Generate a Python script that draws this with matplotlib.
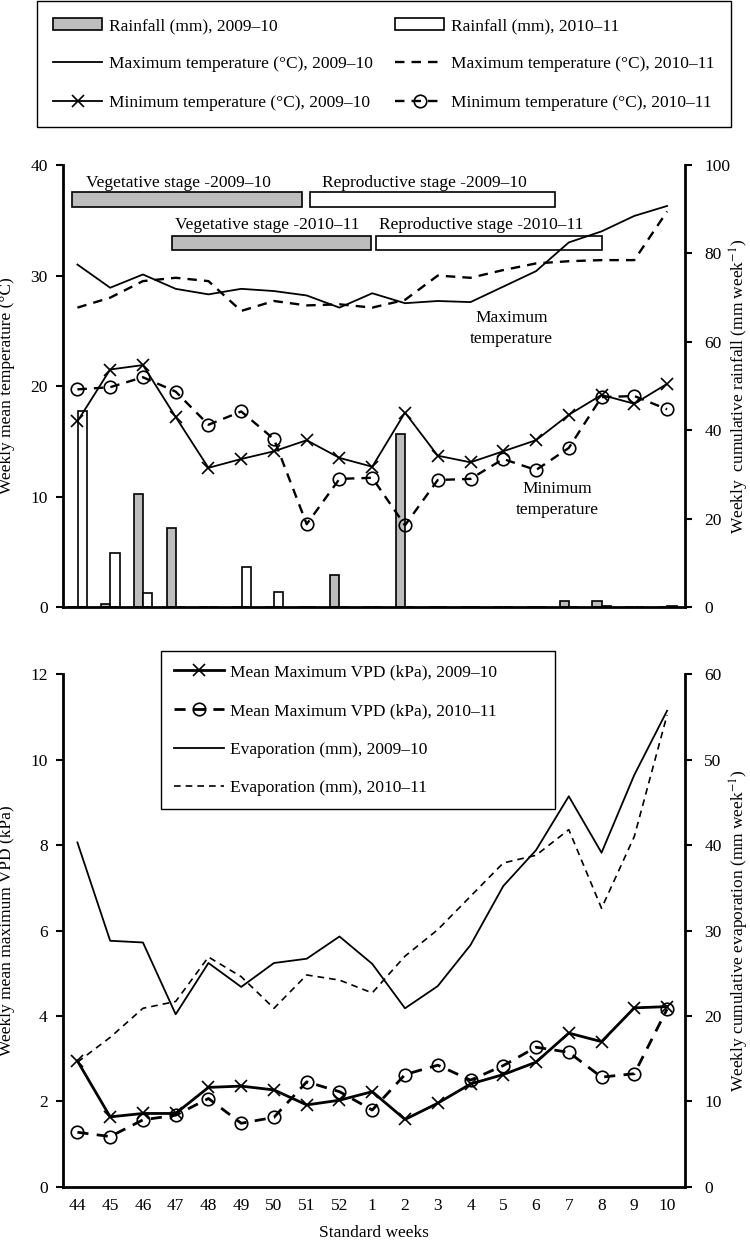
import matplotlib.pyplot as plt
import numpy as np

plt.rcParams['font.family'] = ['Liberation Serif', 'DejaVu Serif']
plt.rcParams['mathtext.fontset'] = 'stix'
plt.rcParams['font.size'] = 12.5

# standard weeks, Nov 2009/10 -> Mar 2010/11
weeks = ['44', '45', '46', '47', '48', '49', '50', '51', '52',
         '1', '2', '3', '4', '5', '6', '7', '8', '9', '10']

# rainfall (mm week-1)
rain_0910 = [0, 0.6, 25.5, 18.0, 0, 0, 0, 0, 7.3, 0, 39.2, 0, 0, 0, 0, 1.4, 1.4, 0, 0]
rain_1011 = [44.4, 12.2, 3.2, 0, 0, 9.0, 3.5, 0, 0, 0, 0, 0, 0, 0, 0, 0, 0.3, 0, 0.2]

# weekly mean temperatures (deg C)
tmax_0910 = [31.0, 28.9, 30.1, 28.8, 28.3, 28.8, 28.6, 28.2, 27.1, 28.4,
             27.5, 27.7, 27.6, 29.0, 30.4, 33.0, 34.0, 35.4, 36.3]
tmax_1011 = [27.1, 28.0, 29.5, 29.8, 29.5, 26.8, 27.7, 27.3, 27.4, 27.1,
             27.8, 30.0, 29.8, 30.5, 31.1, 31.3, 31.4, 31.4, 35.8]
tmin_0910 = [16.8, 21.5, 21.9, 17.2, 12.6, 13.4, 14.1, 15.1, 13.5, 12.7,
             17.6, 13.7, 13.1, 14.1, 15.1, 17.4, 19.2, 18.4, 20.2]
tmin_1011 = [19.7, 19.9, 20.8, 19.5, 16.5, 17.7, 15.2, 7.5, 11.6, 11.7,
             7.4, 11.5, 11.6, 13.4, 12.4, 14.4, 19.0, 19.1, 17.9]

# crop stages (in week index units)
stage_labels = ['Vegetative stage -2009\u201310', 'Reproductive stage -2009\u201310',
                'Vegetative stage -2010\u201311', 'Reproductive stage -2010\u201311']
stage_start = [-0.17, 7.09, 2.88, 9.11]
stage_end = [6.86, 14.59, 8.95, 16.01]

# mean maximum VPD (kPa)
vpd_0910 = [2.95, 1.64, 1.72, 1.72, 2.33, 2.36, 2.27, 1.92, 2.03, 2.23,
            1.58, 1.96, 2.41, 2.63, 2.92, 3.60, 3.40, 4.19, 4.22]
vpd_1011 = [1.28, 1.18, 1.57, 1.68, 2.07, 1.49, 1.63, 2.46, 2.23, 1.80,
            2.63, 2.85, 2.50, 2.84, 3.27, 3.15, 2.57, 2.65, 4.16]

# evaporation (mm week-1)
evap_0910 = [40.3, 28.8, 28.6, 20.2, 26.2, 23.4, 26.2, 26.7, 29.3, 26.1,
             20.9, 23.5, 28.3, 35.2, 39.4, 45.7, 39.1, 48.2, 55.7]
evap_1011 = [14.6, 17.5, 20.9, 21.7, 26.9, 24.6, 20.9, 24.8, 24.2, 22.7,
             27.0, 30.1, 34.0, 37.9, 38.8, 41.8, 32.6, 41.0, 55.2]

x = np.arange(len(weeks))
gray = '#bdbdbd'

fig = plt.figure(figsize=(7.5, 12.45), dpi=100)


def style_pair(ax, axr):
    ax.spines['top'].set_visible(False)
    ax.spines['right'].set_visible(False)
    for s in ['top', 'left', 'bottom']:
        axr.spines[s].set_visible(False)
    for s in ['left', 'bottom']:
        ax.spines[s].set_linewidth(2)
    axr.spines['right'].set_linewidth(2)
    ax.tick_params(axis='y', direction='out', length=5, width=1.5, pad=6)
    axr.tick_params(axis='y', direction='out', length=5, width=1.5, pad=9)
    ax.tick_params(axis='x', length=0)
    ax.set_xlim(-0.44, 18.54)


def right_label(axr, text):
    axr.set_ylabel(text)
    axr.yaxis.label.set_verticalalignment('center')
    axr.yaxis.label.set_horizontalalignment('center')
    axr.yaxis.set_label_coords(1.088, 0.5)


# ---------------- top panel: temperature + rainfall ----------------
ax1 = fig.add_axes([0.084, 0.5124, 0.829, 0.355])
ax1r = ax1.twinx()
ax1.set_zorder(ax1r.get_zorder() + 1)
ax1.patch.set_visible(False)
style_pair(ax1, ax1r)

b1 = ax1r.bar(x - 0.14, rain_0910, width=0.28, color=gray, edgecolor='black', linewidth=1.2)
b2 = ax1r.bar(x + 0.15, rain_1011, width=0.28, color='white', edgecolor='black', linewidth=1.2)
ax1r.set_ylim(0, 100)
ax1r.set_yticks([0, 20, 40, 60, 80, 100])
right_label(ax1r, 'Weekly  cumulative rainfall (mm week$^{-1}$)')

l1, = ax1.plot(x, tmax_0910, color='black', lw=1.3)
l2, = ax1.plot(x, tmax_1011, color='black', lw=1.7, ls=(0, (4, 3)))
l3, = ax1.plot(x, tmin_0910, color='black', lw=1.3, marker='x', ms=9, mew=1.2)
l4, = ax1.plot(x, tmin_1011, color='black', lw=1.7, ls=(0, (4, 3)), marker='o', ms=9,
               mfc='none', mew=1.2)
ax1.set_ylim(0, 40)
ax1.set_yticks([0, 10, 20, 30, 40])
ax1.set_xticks(x)
ax1.tick_params(axis='x', labelbottom=False)
ax1.set_ylabel('Weekly mean temperature (\u00b0C)')
ax1.yaxis.set_label_coords(-0.077, 0.5)

# stage bars
stage_y = [36.85, 36.85, 32.95, 32.95]
stage_col = [gray, 'white', gray, 'white']
text_x = [3.09, 10.58, 5.8, 12.32]
text_y = [38.4, 38.4, 34.6, 34.6]
for i in range(4):
    ax1.barh(stage_y[i], stage_end[i] - stage_start[i], left=stage_start[i], height=1.35,
             color=stage_col[i], edgecolor='black', linewidth=1.2)
    ax1.text(text_x[i], text_y[i], stage_labels[i], ha='center', va='center')

ax1.text(13.26, 25.2, 'Maximum\ntemperature', ha='center', va='center', linespacing=1.4)
ax1.text(14.64, 9.7, 'Minimum\ntemperature', ha='center', va='center', linespacing=1.4)

leg1 = fig.legend([b1, l1, l3, b2, l2, l4],
                  ['Rainfall (mm), 2009\u201310', 'Maximum temperature (\u00b0C), 2009\u201310',
                   'Minimum temperature (\u00b0C), 2009\u201310', 'Rainfall (mm), 2010\u201311',
                   'Maximum temperature (\u00b0C), 2010\u201311', 'Minimum temperature (\u00b0C), 2010\u201311'],
                  ncol=2, loc='upper center', bbox_to_anchor=(0.512, 0.999),
                  fancybox=False, edgecolor='black', framealpha=1,
                  handlelength=2.8, handletextpad=0.4, columnspacing=1.3,
                  labelspacing=1.28, borderpad=0.95, borderaxespad=0)
leg1.get_frame().set_linewidth(1.0)

# ---------------- bottom panel: VPD + evaporation ----------------
ax2 = fig.add_axes([0.084, 0.0466, 0.829, 0.412])
ax2r = ax2.twinx()
ax2.set_zorder(ax2r.get_zorder() + 1)
ax2.patch.set_visible(False)
style_pair(ax2, ax2r)

e1, = ax2r.plot(x, evap_0910, color='black', lw=1.3)
e2, = ax2r.plot(x, evap_1011, color='black', lw=1.2, ls=(0, (4, 3)))
ax2r.set_ylim(0, 60)
ax2r.set_yticks([0, 10, 20, 30, 40, 50, 60])
right_label(ax2r, 'Weekly cumulative evaporation (mm week$^{-1}$)')

v1, = ax2.plot(x, vpd_0910, color='black', lw=2.0, marker='x', ms=9, mew=1.2)
v2, = ax2.plot(x, vpd_1011, color='black', lw=2.0, ls=(0, (4, 3)), marker='o', ms=9,
               mfc='none', mew=1.2)
ax2.set_ylim(0, 12)
ax2.set_yticks([0, 2, 4, 6, 8, 10, 12])
ax2.set_xticks(x)
ax2.set_xticklabels(weeks)
ax2.tick_params(axis='x', pad=8)
ax2.set_ylabel('Weekly mean maximum VPD (kPa)')
ax2.yaxis.set_label_coords(-0.077, 0.5)
ax2.set_xlabel('Standard weeks', labelpad=8)

leg2 = fig.legend([v1, v2, e1, e2],
                  ['Mean Maximum VPD (kPa), 2009\u201310', 'Mean Maximum VPD (kPa), 2010\u201311',
                   'Evaporation (mm), 2009\u201310', 'Evaporation (mm), 2010\u201311'],
                  loc='upper left', bbox_to_anchor=(0.2143, 0.4771, 0.526, 0), mode='expand',
                  fancybox=False, edgecolor='black', framealpha=1,
                  handlelength=2.9, handletextpad=0.35,
                  labelspacing=1.3, borderpad=0.75, borderaxespad=0)
leg2.get_frame().set_linewidth(1.0)

fig.savefig('out.png', dpi=100)
